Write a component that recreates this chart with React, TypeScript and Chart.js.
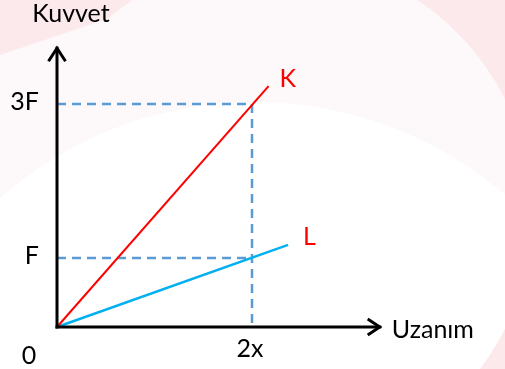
import React, { useEffect, useRef } from "react";
import { Chart, registerables } from "chart.js";

Chart.register(...registerables);

// ---- data ----
const kLineX = [0, 2.17];
const kLineY = [0, 3.49];
const lLineX = [0, 2.37];
const lLineY = [0, 1.19];
const xMarkValues = [2];
const xMarkLabels = ["2x"];
const yMarkValues = [1, 3.23];
const yMarkLabels = ["F", "3F"];
const axisEnds = [3.31, 4.04]; // x-axis end, y-axis end
const axisTitles = ["Uzanım", "Kuvvet"];
const seriesNames = ["K", "L"];
const originLabel = "0";

const FONT = "Lato, 'Open Sans', sans-serif";

const pts = (xs: number[], ys: number[]) => xs.map((x, i) => ({ x, y: ys[i] }));

const backgroundPlugin = {
  id: "bgDeco",
  beforeDraw(chart: any) {
    const ctx = chart.ctx;
    const w = chart.width, h = chart.height;
    ctx.save();
    ctx.fillStyle = "#fce9eb";
    ctx.fillRect(0, 0, w, h);
    ctx.fillStyle = "#fdf8f9";
    ctx.beginPath();
    ctx.moveTo(0, 55);
    ctx.lineTo(163, 0);
    ctx.lineTo(417, 0);
    ctx.lineTo(417, h);
    ctx.lineTo(0, h);
    ctx.closePath();
    ctx.fill();
    ctx.beginPath();
    ctx.moveTo(275 + 257, 214);
    ctx.arc(275, 214, 257, 0, Math.PI * 2);
    ctx.closePath();
    ctx.fill();
    ctx.fillStyle = "#ffffff";
    ctx.beginPath();
    ctx.moveTo(254.5 + 385, 487);
    ctx.arc(254.5, 487, 385, 0, Math.PI * 2);
    ctx.closePath();
    ctx.fill();
    // pink corner bottom-right (outside the circle)
    ctx.beginPath();
    ctx.rect(400, 250, w - 400, h - 250);
    ctx.clip();
    ctx.fillStyle = "#fce9eb";
    ctx.beginPath();
    ctx.rect(0, 0, w, h);
    ctx.moveTo(275 + 257, 214);
    ctx.arc(275, 214, 257, 0, Math.PI * 2);
    ctx.closePath();
    ctx.fill("evenodd");
    ctx.restore();
  },
};

const annotationPlugin = {
  id: "annot",
  afterDatasetsDraw(chart: any) {
    const ctx = chart.ctx;
    const xs = chart.scales.x;
    const ys = chart.scales.y;
    const ox = xs.getPixelForValue(0);
    const oy = ys.getPixelForValue(0);
    const xEnd = xs.getPixelForValue(axisEnds[0]);
    const yEnd = ys.getPixelForValue(axisEnds[1]);
    ctx.save();
    // arrowheads
    ctx.strokeStyle = "#000";
    ctx.lineWidth = 3;
    ctx.lineCap = "butt";
    ctx.lineJoin = "miter";
    ctx.beginPath();
    ctx.moveTo(ox - 8.5, yEnd + 13);
    ctx.lineTo(ox, yEnd);
    ctx.lineTo(ox + 8.5, yEnd + 13);
    ctx.stroke();
    ctx.beginPath();
    ctx.moveTo(xEnd - 12, oy - 8);
    ctx.lineTo(xEnd, oy);
    ctx.lineTo(xEnd - 12, oy + 8);
    ctx.stroke();

    // texts
    ctx.fillStyle = "#000";
    ctx.font = `25px ${FONT}`;
    ctx.textBaseline = "middle";
    ctx.textAlign = "center";
    ctx.fillText(axisTitles[1], ox + 14, yEnd - 34);
    ctx.textAlign = "left";
    ctx.fillText(axisTitles[0], xEnd + 12, oy + 3);
    ctx.textAlign = "center";
    ctx.fillText(originLabel, ox - 28, oy + 29);
    xMarkValues.forEach((v, i) => {
      ctx.fillText(xMarkLabels[i], xs.getPixelForValue(v) - 2, oy + 22);
    });
    ctx.textAlign = "right";
    yMarkValues.forEach((v, i) => {
      ctx.fillText(yMarkLabels[i], ox - 18, ys.getPixelForValue(v) - 2);
    });
    ctx.fillStyle = "#ff0000";
    ctx.textAlign = "left";
    const kx = xs.getPixelForValue(kLineX[1]);
    const ky = ys.getPixelForValue(kLineY[1]);
    ctx.fillText(seriesNames[0], kx + 11, ky - 7);
    const lx = xs.getPixelForValue(lLineX[1]);
    const ly = ys.getPixelForValue(lLineY[1]);
    ctx.fillText(seriesNames[1], lx + 15, ly - 8);
    ctx.restore();
  },
};

export default function App() {
  const ref = useRef<HTMLCanvasElement | null>(null);
  useEffect(() => {
    if (!ref.current) return;
    const dash = [9, 6];
    const dashColor = "#5b9bd5";
    const chart = new Chart(ref.current, {
      type: "scatter",
      data: {
        datasets: [
          {
            label: "x-axis",
            data: [{ x: 0, y: 0 }, { x: axisEnds[0], y: 0 }],
            showLine: true,
            borderColor: "#000",
            borderWidth: 3,
            pointRadius: 0,
            borderCapStyle: "square",
          },
          {
            label: "y-axis",
            data: [{ x: 0, y: 0 }, { x: 0, y: axisEnds[1] }],
            showLine: true,
            borderColor: "#000",
            borderWidth: 3,
            pointRadius: 0,
            borderCapStyle: "square",
          },
          {
            label: seriesNames[0],
            data: pts(kLineX, kLineY),
            showLine: true,
            borderColor: "#ff0000",
            borderWidth: 2,
            pointRadius: 0,
          },
          {
            label: seriesNames[1],
            data: pts(lLineX, lLineY),
            showLine: true,
            borderColor: "#00b0f0",
            borderWidth: 2.5,
            pointRadius: 0,
          },
          {
            label: "guide-3F",
            data: [
              { x: 0, y: yMarkValues[1] },
              { x: xMarkValues[0], y: yMarkValues[1] },
              { x: xMarkValues[0], y: 0 },
            ],
            showLine: true,
            borderColor: dashColor,
            borderWidth: 2.5,
            borderDash: dash,
            pointRadius: 0,
          },
          {
            label: "guide-F",
            data: [
              { x: 0, y: yMarkValues[0] },
              { x: xMarkValues[0], y: yMarkValues[0] },
            ],
            showLine: true,
            borderColor: dashColor,
            borderWidth: 2.5,
            borderDash: dash,
            pointRadius: 0,
          },
        ],
      },
      options: {
        responsive: false,
        animation: false,
        layout: { padding: 0 },
        plugins: {
          legend: { display: false },
          tooltip: { enabled: false },
          title: { display: false },
        },
        scales: {
          x: { type: "linear", display: false, min: -0.5846, max: 4.5949 },
          y: { type: "linear", display: false, min: -0.609, max: 4.739 },
        },
      },
      plugins: [backgroundPlugin, annotationPlugin],
    } as any);
    return () => chart.destroy();
  }, []);
  return (
    <div style={{ position: "fixed", left: 0, top: 0, width: 505, height: 369 }}>
      <canvas ref={ref} width={505} height={369} style={{ display: "block" }} />
    </div>
  );
}
